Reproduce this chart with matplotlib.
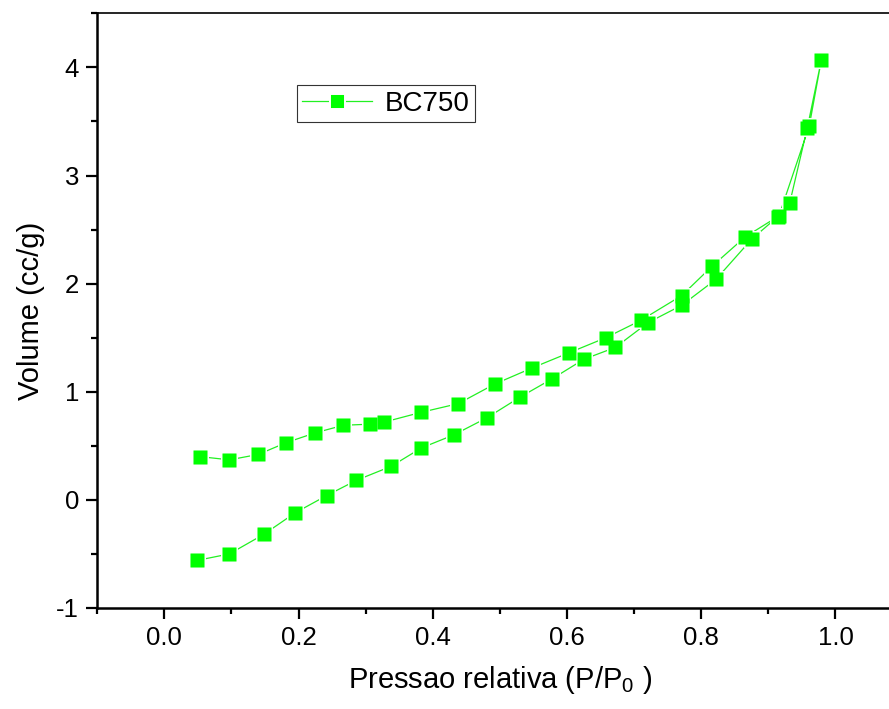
import matplotlib
matplotlib.use("Agg")
import matplotlib.pyplot as plt
from matplotlib.ticker import MultipleLocator
import numpy as np

plt.rcParams['font.family'] = ['Liberation Sans', 'DejaVu Sans']
plt.rcParams['mathtext.fontset'] = 'custom'
plt.rcParams['mathtext.rm'] = 'Liberation Sans'
plt.rcParams['axes.unicode_minus'] = False

# adsorption branch (P/P0, volume)
ads_p = [0.049, 0.097, 0.148, 0.195, 0.242, 0.286, 0.338, 0.383, 0.431, 0.481,
         0.530, 0.578, 0.625, 0.672, 0.721, 0.771, 0.822, 0.875, 0.916, 0.961, 0.979]
ads_v = [-0.56, -0.50, -0.32, -0.12, 0.04, 0.18, 0.31, 0.48, 0.60, 0.76,
         0.95, 1.12, 1.30, 1.41, 1.64, 1.80, 2.04, 2.41, 2.63, 3.46, 4.07]

# desorption branch, going back down from the last adsorption point
des_p = [0.958, 0.932, 0.914, 0.865, 0.816, 0.771, 0.710, 0.658, 0.603, 0.548,
         0.492, 0.438, 0.383, 0.328, 0.307, 0.267, 0.225, 0.182, 0.140, 0.097, 0.053]
des_v = [3.44, 2.75, 2.62, 2.43, 2.16, 1.89, 1.66, 1.50, 1.36, 1.22,
         1.07, 0.89, 0.81, 0.72, 0.70, 0.69, 0.62, 0.53, 0.42, 0.37, 0.40]

p = np.array(ads_p + des_p)
v = np.array(ads_v + des_v)

fig = plt.figure(figsize=(8.89, 7.09), dpi=100)
ax = fig.add_axes([0.1093, 0.1425, 0.906, 0.8387])

# line with white-edged markers so the line stops short of each square
ax.plot(p, v, color='#22f022', lw=0.9, marker='s', ms=10.8,
        mfc='#00ff00', mec='white', mew=1.4, label='BC750')
# solid squares on top so overlapping markers stay green
ax.plot(p, v, ls='none', marker='s', ms=9.4, mfc='#00ff00', mec='none')

ax.set_xlim(-0.1, 1.1)
ax.set_ylim(-1, 4.5)
ax.xaxis.set_minor_locator(MultipleLocator(0.1))
ax.yaxis.set_major_locator(MultipleLocator(1))
ax.yaxis.set_minor_locator(MultipleLocator(0.5))
ax.set_xticks(np.arange(0, 1.01, 0.2))
ax.set_xticklabels(['0.0', '0.2', '0.4', '0.6', '0.8', '1.0'])

ax.spines['right'].set_visible(False)
ax.spines['top'].set_linewidth(1.2)
ax.spines['left'].set_linewidth(1.8)
ax.spines['bottom'].set_linewidth(1.8)
ax.tick_params(which='major', direction='out', length=8, width=1.6,
               labelsize=18.5, pad=5, top=False, right=False)
ax.tick_params(which='minor', direction='out', length=4, width=1.6,
               top=False, right=False)

ax.set_xlabel('Pressao relativa (P/P$_0$ )', fontsize=21, labelpad=10)
ax.set_ylabel('Volume (cc/g)', fontsize=21, labelpad=8)

leg = ax.legend(loc='upper left', bbox_to_anchor=(0.248, 0.879),
                borderaxespad=0, fontsize=20, fancybox=False,
                edgecolor='#333333', framealpha=1, handlelength=2.5,
                handletextpad=0.45, borderpad=0.2)
leg.get_frame().set_linewidth(0.8)

fig.savefig('out.png', dpi=100)
